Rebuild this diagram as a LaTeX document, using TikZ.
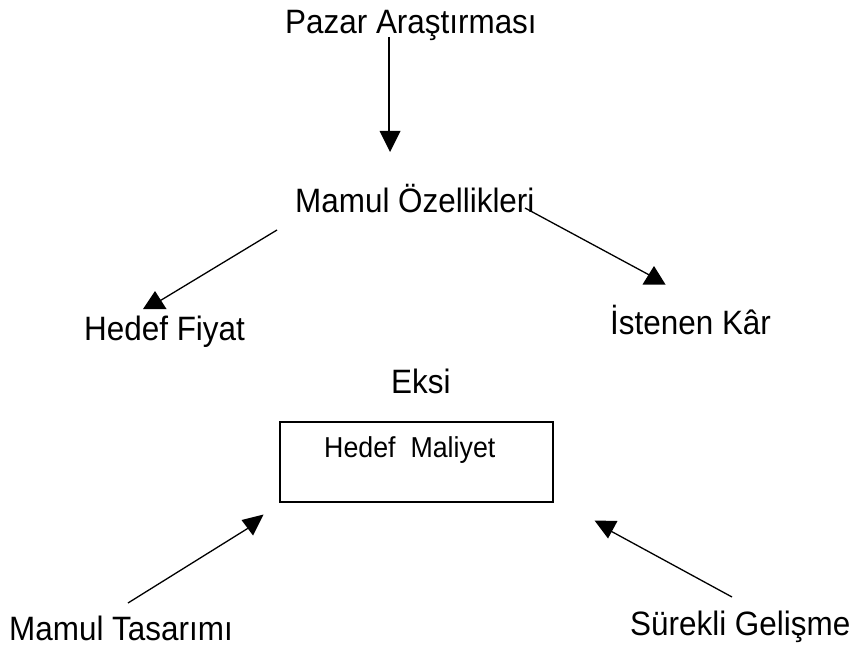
\documentclass[tikz,border=0pt]{standalone}
\usepackage{fontspec}
\setmainfont{Liberation Sans}[FakeStretch=0.93]
\begin{document}
\begin{tikzpicture}[x=1pt,y=-1pt,
  label/.style={inner sep=0pt,anchor=base west,font=\fontsize{33.8}{38}\selectfont},
  boxlabel/.style={inner sep=0pt,anchor=base west,font=\fontsize{28.8}{33}\selectfont},
  link/.style={line width=1.3pt},
  head/.style={fill=black}]
\useasboundingbox (0,0) rectangle (856,652);

% labels
\node[label] (pazar) at (285,34) {Pazar Araştırması};
\node[label] (ozellik) at (295,213) {Mamul Özellikleri};
\node[label] (fiyat) at (84,340) {Hedef Fiyat};
\node[label] (kar) at (610,334) {İstenen Kâr};
\node[label] (eksi) at (391,393) {Eksi};
\node[label] (tasarim) at (9,640) {Mamul Tasarımı};
\node[label] (gelisme) at (630,635) {Sürekli Gelişme};

% target cost box
\node[draw,line width=1.3pt,minimum width=273pt,minimum height=80pt,inner sep=0pt]
  (maliyet) at (416.5,462) {};
\node[boxlabel] (maliyettext) at (324,457.7) {Hedef\ \ Maliyet};

% connector end points
\coordinate (a1) at (389,37);   \coordinate (a2) at (389,133);
\coordinate (b1) at (277,230);  \coordinate (b2) at (158,302);
\coordinate (c1) at (525,208);  \coordinate (c2) at (653,277);
\coordinate (d1) at (128,603);  \coordinate (d2) at (250,527);
\coordinate (e1) at (732,597);  \coordinate (e2) at (607,529);

\draw[link] (a1) -- (a2);
\draw[link] (b1) -- (b2);
\draw[link] (c1) -- (c2);
\draw[link] (d1) -- (d2);
\draw[link] (e1) -- (e2);

% arrowheads
\fill[head] (379.5,131) -- (400.5,131) -- (390,152) -- cycle;
\fill[head] (155,291) -- (166.5,309) -- (143,309) -- cycle;
\fill[head] (654,266) -- (665.5,284.5) -- (642.5,284.5) -- cycle;
\fill[head] (241.5,520) -- (263.5,514.5) -- (253,535.5) -- cycle;
\fill[head] (594.5,520.5) -- (617.5,521) -- (608,538.5) -- cycle;
\end{tikzpicture}
\end{document}
